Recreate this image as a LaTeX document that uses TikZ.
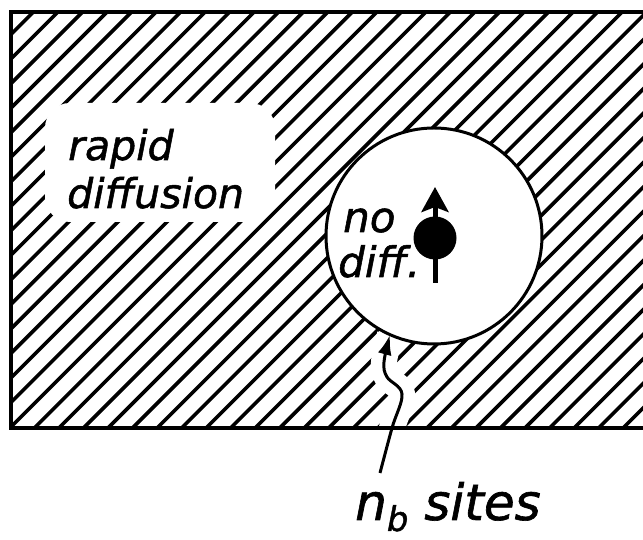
\documentclass[tikz,border=0pt]{standalone}
\usepackage{fontspec}
\setmainfont{DejaVu Sans}[ItalicFeatures={FakeBold=1.3}]
\usepackage{tikz}
\usetikzlibrary{arrows.meta, calc}
\definecolor{ink}{RGB}{0,0,0}
\tikzset{
  hatchline/.style={line width=3.6pt, line cap=round, color=ink},
  boxline/.style={line width=4pt, color=ink},
  lettering/.style={inner sep=0pt, anchor=base west, color=ink,
    font=\itshape\fontsize{41}{41}\selectfont},
  spinarrow/.style={line width=5pt, color=ink,
    -{Stealth[length=25pt, width=27pt, inset=5pt]}},
  wavyarrow/.style={line width=3pt, color=ink,
    -{Latex[length=20pt, width=14pt]}}
}

\begin{document}
\begin{tikzpicture}[x=1pt, y=1pt]
    \useasboundingbox (0,0) rectangle (643,540);
    \clip (0,0) rectangle (643,540);

    % Hatched lattice
    \begin{scope}
      \clip (10.5,112) rectangle (660,528);
      \foreach \k [evaluate=\k as \d using -421+24.53*\k] in {-5,...,40}
        \draw[hatchline] (\d+100,100) -- (\d+540,540);
    \end{scope}

    % Cleared patch behind the text
    \fill[white, rounded corners=25pt] (45,318) rectangle (275,437);

    % Bound site
    \node[circle, minimum size=216pt, inner sep=0pt] (site) at (434,304) {};
    \coordinate (tail) at (380,67);
    \coordinate (tip) at (site.246);
    \draw[white, line width=26pt] plot[smooth, tension=0.6]
      coordinates {(tail) (392,112) (402,146) (387,163) (384,178) (tip)};

    % Frame
    \draw[boxline] (660,112) -- (10.5,112) -- (10.5,528) -- (660,528);

    \draw[ink, fill=white, line width=3pt] (site.center) circle (108pt);
    \node[circle, fill=ink, minimum size=43pt, inner sep=0pt] (dot) at (435,302) {};
    \coordinate (spinlow) at (435,257);
    \coordinate (spinhigh) at (435,353);
    \draw[spinarrow] (spinlow) -- (spinhigh);

    % Labels
    \node[lettering] (rapid) at (68,380) {rapid};
    \node[lettering] (diffusion) at (67,332) {diffusion};
    \node[lettering, font=\itshape\fontsize{42}{42}\selectfont] (no) at (343,308) {no};
    \node[lettering, font=\itshape\fontsize{42}{42}\selectfont] (diff) at (338,263) {diff.};
    \node[lettering, font=\itshape\fontsize{50}{50}\selectfont] (sites) at (355,20)
      {n\raisebox{-11pt}{\fontsize{34}{34}\selectfont b} sites};

    % Pointer to the n_b sites
    \draw[wavyarrow] plot[smooth, tension=0.6]
      coordinates {(tail) (392,112) (402,146) (387,163) (384,178) (tip)};
  \end{tikzpicture}
\end{document}
